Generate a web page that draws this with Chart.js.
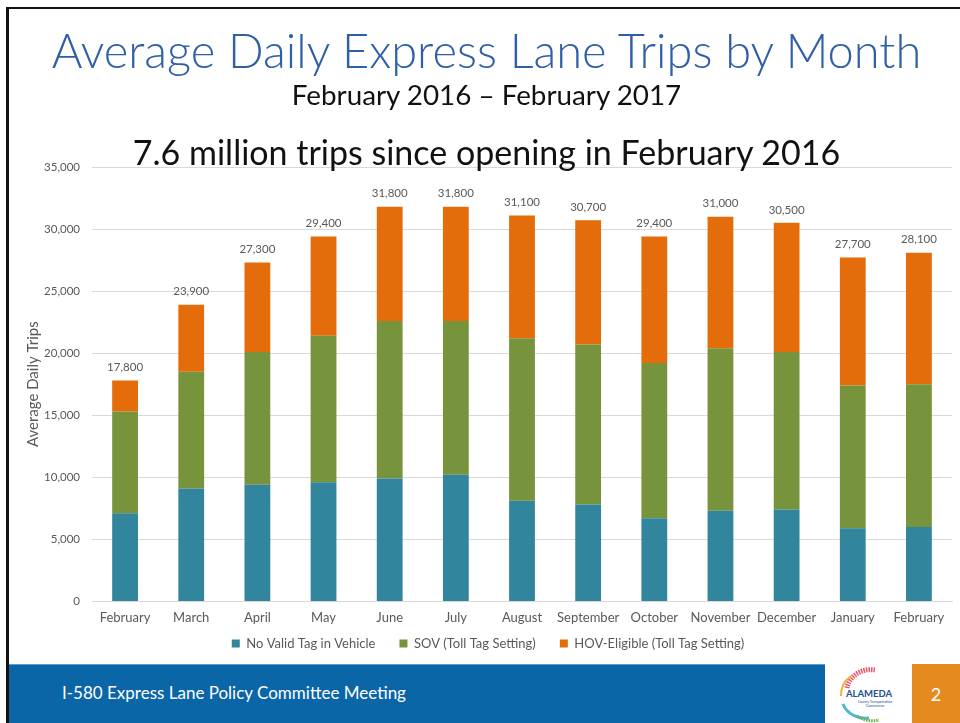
<!DOCTYPE html>
<html>
<head>
<meta charset="utf-8">
<script src="https://cdn.jsdelivr.net/npm/chart.js@4.4.0/dist/chart.umd.min.js"></script>
<style>
  body { margin: 0; width: 960px; height: 723px; overflow: hidden; background: #fff; font-family: Lato, "Noto Sans", sans-serif; }
  #slide { position: relative; width: 960px; height: 723px; }
  #chartWrap { position: absolute; left: 0; top: 0; width: 960px; height: 723px; }
  .txt { position: absolute; left: 9px; width: 951px; text-align: center; white-space: nowrap; margin-left: 2px; }
  #title { top: 22px; font-size: 47px; color: #2f5fa6; font-weight: 300; }
  #sub { top: 78px; font-size: 27.8px; color: #111; }
  #note { top: 131px; font-size: 34px; color: #111; }
  #borderTop { position: absolute; left: 6px; top: 7px; width: 954px; height: 2px; background: #111; }
  #borderLeft { position: absolute; left: 6px; top: 7px; width: 3px; height: 716px; background: #111; }
  #footer { position: absolute; left: 9px; top: 664px; width: 816px; height: 59px; background: #0b66a7; border-top: 1px solid #5f9cc8; }
  #footer span { position: absolute; left: 53px; top: 17px; color: #fff; font-size: 17px; }
  #logo { position: absolute; left: 825px; top: 664px; width: 87px; height: 60px; background: #fff; }
  #page { position: absolute; left: 912px; top: 664px; width: 48px; height: 60px; background: #e58a1f; color: #fff; font-size: 18px; text-align: center; line-height: 60px; }
</style>
</head>
<body>
<div id="slide">
  <div id="chartWrap"><canvas id="tripsChart" width="960" height="723"></canvas></div>
  <div id="borderTop"></div>
  <div id="borderLeft"></div>
  <div class="txt" id="title">Average Daily Express Lane Trips by Month</div>
  <div class="txt" id="sub">February 2016 – February 2017</div>
  <div class="txt" id="note">7.6 million trips since opening in February 2016</div>
  <div id="footer"><span>I-580 Express Lane Policy Committee Meeting</span></div>
  <div id="logo">
    <svg width="87" height="60" viewBox="0 0 87 60">
      <path d="M22 24 A24 22 0 0 1 50 6" stroke="#e8566c" stroke-width="5" fill="none" stroke-dasharray="1.5 1"/>
      <path d="M16 32 A26 24 0 0 1 26 12" stroke="#f2b13c" stroke-width="2" fill="none"/>
      <path d="M18 40 A24 20 0 0 0 44 54" stroke="#4fb8d8" stroke-width="3" fill="none"/>
      <path d="M32 52 A24 20 0 0 0 54 56" stroke="#6ab04c" stroke-width="3" fill="none" stroke-dasharray="1.5 1"/>
      <text x="44" y="33" text-anchor="middle" font-size="9.5" font-weight="bold" fill="#1d4f91" font-family="Lato, sans-serif">ALAMEDA</text>
      <text x="50" y="39" text-anchor="middle" font-size="3.5" fill="#1d4f91" font-family="Lato, sans-serif">County Transportation</text>
      <text x="50" y="43" text-anchor="middle" font-size="3.5" fill="#1d4f91" font-family="Lato, sans-serif">Commission</text>
    </svg>
  </div>
  <div id="page">2</div>
</div>
<script>
const months = ['February', 'March', 'April', 'May', 'June', 'July', 'August', 'September', 'October', 'November', 'December', 'January', 'February'];
const noValidTag = [7100, 9100, 9400, 9600, 9900, 10200, 8100, 7800, 6700, 7300, 7400, 5900, 6000];
const sovTrips = [8200, 9400, 10700, 11800, 12700, 12400, 13100, 12900, 12500, 13100, 12700, 11500, 11500];
const hovTrips = [2500, 5400, 7200, 8000, 9200, 9200, 9900, 10000, 10200, 10600, 10400, 10300, 10600];
const yTicks = [0, 5000, 10000, 15000, 20000, 25000, 30000, 35000];

const grey = '#595959';
const chartFont = 'Lato, "Noto Sans", sans-serif';

// totals drawn above each stacked bar
const totalLabels = {
  id: 'totalLabels',
  afterDatasetsDraw(chart) {
    const ctx = chart.ctx;
    const top = chart.getDatasetMeta(chart.data.datasets.length - 1);
    ctx.save();
    ctx.font = '11.5px ' + chartFont;
    ctx.fillStyle = grey;
    ctx.textAlign = 'center';
    ctx.textBaseline = 'middle';
    months.forEach((m, i) => {
      const total = noValidTag[i] + sovTrips[i] + hovTrips[i];
      const bar = top.data[i];
      ctx.fillText(total.toLocaleString('en-US'), bar.x, bar.y - 13);
    });
    ctx.restore();
  }
};

// pull the legend up a bit closer to the month labels
const legendNudge = {
  id: 'legendNudge',
  afterLayout(chart) {
    if (chart.legend) {
      chart.legend.top -= 14;
      chart.legend.bottom -= 14;
    }
  }
};

const ctx = document.getElementById('tripsChart').getContext('2d');
new Chart(ctx, {
  type: 'bar',
  data: {
    labels: months,
    datasets: [
      { label: 'No Valid Tag in Vehicle', data: noValidTag, backgroundColor: '#31859c' },
      { label: 'SOV (Toll Tag Setting)', data: sovTrips, backgroundColor: '#77933c' },
      { label: 'HOV-Eligible (Toll Tag Setting)', data: hovTrips, backgroundColor: '#e46c0a' }
    ]
  },
  options: {
    responsive: false,
    animation: false,
    categoryPercentage: 1,
    barPercentage: 0.39,
    layout: { padding: { top: 167, right: 8, bottom: 49, left: 24 } },
    plugins: {
      legend: {
        position: 'bottom',
        labels: { boxWidth: 8, boxHeight: 8, padding: 24, color: grey, font: { family: chartFont, size: 13 } }
      },
      tooltip: { enabled: false }
    },
    scales: {
      x: {
        stacked: true,
        grid: { display: false },
        border: { color: '#d9d9d9' },
        ticks: { color: grey, font: { family: chartFont, size: 13 }, maxRotation: 0, autoSkip: false, padding: 1 }
      },
      y: {
        stacked: true,
        min: 0,
        max: 35000,
        afterBuildTicks(scale) { scale.ticks = yTicks.map(v => ({ value: v })); },
        afterFit(scale) { scale.width = 68; },
        grid: { color: '#d9d9d9', drawTicks: false },
        border: { display: false },
        ticks: { color: grey, padding: 12, font: { family: chartFont, size: 11.5 }, callback: v => v.toLocaleString('en-US') },
        title: { display: true, text: 'Average Daily Trips', color: grey, font: { family: chartFont, size: 15 }, padding: { top: 0, bottom: 0 } }
      }
    }
  },
  plugins: [totalLabels, legendNudge]
});
</script>
</body>
</html>
